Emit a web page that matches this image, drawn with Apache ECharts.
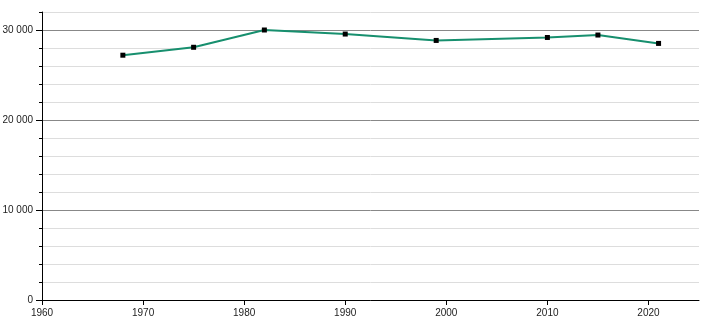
<!DOCTYPE html>
<html>
<head>
<meta charset="utf-8">
<script src="https://cdn.jsdelivr.net/npm/echarts@6/dist/echarts.min.js"></script>
<style>html,body{margin:0;padding:0;background:#fff}#c{width:710px;height:320px}</style>
</head>
<body>
<div id="c"></div>
<script>
const years = [1968, 1975, 1982, 1990, 1999, 2010, 2015, 2021];
const population = [27200, 28080, 30000, 29550, 28840, 29170, 29440, 28510];
const xTicks = [1960, 1970, 1980, 1990, 2000, 2010, 2020];
const yLabels = [0, 10000, 20000, 30000];

function fmt(v){ return String(v).replace(/\B(?=(\d{3})+(?!\d))/g, ' '); }

const chart = echarts.init(document.getElementById('c'), null, {renderer:'canvas'});
const font = {fontFamily:'Liberation Sans, Arial, sans-serif', fontSize:10, color:'#222'};
chart.setOption({
  animation:false,
  grid:{left:42, right:11, top:12, bottom:20, containLabel:false, outerBoundsMode:'none'},
  xAxis:{
    type:'value', min:1960, max:2025,
    axisLine:{show:true, onZero:false, lineStyle:{color:'#000', width:1}},
    axisTick:{show:true, length:5, customValues:xTicks, lineStyle:{color:'#000'}},
    axisLabel:Object.assign({customValues:xTicks, margin:8, formatter:v=>String(v)}, font),
    splitLine:{show:false}
  },
  yAxis:[{
    type:'value', min:0, max:32000, interval:2000,
    axisLine:{show:true, lineStyle:{color:'#000', width:1}},
    axisTick:{show:true, length:3, lineStyle:{color:'#000'}},
    axisLabel:{show:false},
    splitLine:{show:true, lineStyle:{color:['#888888','#dddddd','#dddddd','#dddddd','#dddddd'], width:1}}
  },{
    type:'value', min:0, max:32000, position:'left',
    axisLine:{show:false},
    axisTick:{show:true, length:6, customValues:yLabels, lineStyle:{color:'#000'}},
    axisLabel:Object.assign({customValues:yLabels, margin:9, formatter:v=>fmt(v)}, font),
    splitLine:{show:false}
  }],
  series:[{
    type:'line',
    data:years.map((y,i)=>[y, population[i]]),
    lineStyle:{color:'#178f6e', width:2},
    itemStyle:{color:'#000'},
    symbol:'rect', symbolSize:5, showSymbol:true,
    z:5
  }]
});
</script>
</body>
</html>
